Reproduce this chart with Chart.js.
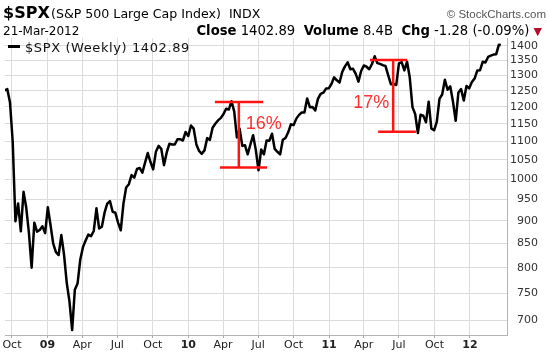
<!DOCTYPE html>
<html>
<head>
<meta charset="utf-8">
<script src="https://cdn.jsdelivr.net/npm/chart.js@4/dist/chart.umd.min.js"></script>
<style>
  html, body { margin: 0; padding: 0; background: #fff; }
  #wrap { position: relative; width: 548px; height: 357px; overflow: hidden; }
  #c { position: absolute; left: 0; top: 0; }
  .t { position: absolute; white-space: nowrap; font-family: "DejaVu Sans", sans-serif; color: #000; line-height: 1; }
  .red { color: #ff3030; font-family: "Liberation Sans", Arial, sans-serif; font-size: 18px; }
</style>
</head>
<body>
<div id="wrap">
  <canvas id="c" width="548" height="357"></canvas>
  <div class="t" style="left:3px;top:5px;font-size:16px;font-weight:bold;">$SPX</div>
  <div class="t" style="left:51px;top:8px;font-size:12.6px;">(S&amp;P 500 Large Cap Index)&nbsp; INDX</div>
  <div class="t" style="right:2px;top:9px;font-size:11.5px;color:#555;font-family:'Liberation Sans',Arial,sans-serif;">© StockCharts.com</div>
  <div class="t" style="left:3px;top:25px;font-size:12px;">21-Mar-2012</div>
  <div class="t" style="right:6px;top:24px;font-size:13.2px;"><b>Close</b> 1402.89&nbsp; <b>Volume</b> 8.4B&nbsp; <b>Chg</b> -1.28 (-0.09%) <span style="color:#b0102a;font-size:11px;">▼</span></div>
  <div style="position:absolute;left:8px;top:45px;width:12px;height:3px;background:#000;"></div>
  <div class="t" style="left:25px;top:41px;font-size:13px;letter-spacing:0.6px;color:#111;">$SPX (Weekly) 1402.89</div>
  <div id="lab0" class="t red">16%</div>
  <div id="lab1" class="t red">17%</div>
</div>
<script>
// ---------------- data ----------------
const startDate = '2008-09-12';   // first weekly close shown
const lastDate  = '2012-03-21';   // last (partial week) bar
const spxWeekly = [
  1251.7, 1255.1, 1213.3, 1099.2, 899.2, 940.6, 876.8, 968.8, 931.0, 873.3, 800.0, 896.2,
  876.1, 879.7, 887.9, 872.8,
  931.8, 890.4, 850.1, 832.0, 825.9, 868.6, 826.8, 770.1, 735.1, 683.4, 756.6, 768.5,
  815.9, 842.5, 856.6, 869.6, 866.2, 877.5, 929.2, 882.9, 887.0, 919.1, 940.1, 946.2,
  921.2, 918.9, 896.4, 879.1, 940.4, 979.3, 987.5, 1010.5, 1004.1, 1026.1, 1028.9, 1016.4,
  1042.7, 1068.3, 1044.4, 1025.2, 1071.5, 1087.7, 1079.6, 1036.2, 1069.3, 1093.5, 1091.4, 1091.5,
  1106.0, 1106.4, 1102.5, 1126.5, 1115.1,
  1145.0, 1136.0, 1091.8, 1073.9, 1066.2, 1075.5, 1109.2, 1104.5, 1138.7, 1150.0, 1159.9, 1166.6,
  1178.1, 1194.4, 1192.1, 1217.3, 1186.7, 1110.9, 1135.7, 1087.7, 1089.4, 1064.9, 1091.6, 1117.5,
  1076.8, 1022.6, 1078.0, 1064.9, 1102.7, 1101.6, 1121.6, 1079.3, 1071.7, 1064.6, 1104.5, 1109.6,
  1125.6, 1148.7, 1146.2, 1165.2, 1176.2, 1183.1, 1183.3, 1225.9, 1199.2, 1199.7, 1189.4, 1224.7,
  1240.4, 1243.9, 1256.8, 1257.6,
  1271.5, 1293.2, 1283.4, 1276.3, 1310.9, 1329.2, 1343.0, 1319.9, 1321.2, 1304.3, 1279.2, 1313.8,
  1332.4, 1328.2, 1319.7, 1337.4, 1363.6, 1340.2, 1337.8, 1333.3, 1331.1, 1300.2, 1271.0, 1271.5,
  1268.5, 1339.7, 1343.8, 1316.1, 1345.0, 1292.3, 1199.4, 1178.8, 1123.5, 1176.8, 1174.0, 1154.2,
  1216.0, 1136.4, 1131.4, 1155.5, 1224.6, 1238.3, 1285.1, 1253.2, 1263.9, 1215.7, 1158.7, 1244.3,
  1255.2, 1219.7, 1265.3, 1257.6,
  1277.8, 1289.1, 1315.4, 1316.3, 1344.9, 1342.6, 1361.2, 1365.7, 1369.6, 1370.9, 1404.2, 1402.9
];
const tickDates  = ['2008-10-01','2009-01-01','2009-04-01','2009-07-01','2009-10-01','2010-01-01','2010-04-01',
                    '2010-07-01','2010-10-01','2011-01-01','2011-04-01','2011-07-01','2011-10-01','2012-01-01'];
const tickLabels = ['Oct','09','Apr','Jul','Oct','10','Apr','Jul','Oct','11','Apr','Jul','Oct','12'];
const priceTicks = [700,750,800,850,900,950,1000,1050,1100,1150,1200,1250,1300,1350,1400];
const xRange = ['2008-09-13','2012-04-06'];
const yRange = [675, 1428];
// drawdown markers (dates / prices)
const ddTopFrom = ['2010-03-11','2011-04-17'];
const ddTopTo   = ['2010-07-14','2011-07-22'];
const ddTop     = [1215, 1351];
const ddBotFrom = ['2010-03-24','2011-05-08'];
const ddBotTo   = ['2010-07-24','2011-08-14'];
const ddBottom  = [1030, 1127];
const ddStem    = ['2010-05-12','2011-06-16'];
const ddLabelAt = [1135, 1197];
const ddLabelSide = ['right','left'];

// ---------------- chart ----------------
const DAY = 86400000;
const dayNum = s => Date.parse(s + 'T00:00:00Z') / DAY;
const points = spxWeekly.map((v, i) => ({
  x: i === spxWeekly.length - 1 ? dayNum(lastDate) : dayNum(startDate) + 7 * i,
  y: v
}));
const yearSet = new Set(['09','10','11','12']);

const ddPlugin = {
  id: 'dd',
  afterDatasetsDraw(chart) {
    const {ctx, scales: {x, y}} = chart;
    ctx.save();
    ctx.strokeStyle = '#ff1414';
    ctx.lineWidth = 2.5;
    const seg = (x1, y1, x2, y2) => { ctx.beginPath(); ctx.moveTo(x1, y1); ctx.lineTo(x2, y2); ctx.stroke(); };
    for (let i = 0; i < ddTop.length; i++) {
      const yt = y.getPixelForValue(ddTop[i]);
      const yb = y.getPixelForValue(ddBottom[i]);
      seg(x.getPixelForValue(dayNum(ddTopFrom[i])), yt, x.getPixelForValue(dayNum(ddTopTo[i])), yt);
      seg(x.getPixelForValue(dayNum(ddBotFrom[i])), yb, x.getPixelForValue(dayNum(ddBotTo[i])), yb);
      const xs = x.getPixelForValue(dayNum(ddStem[i]));
      seg(xs, yt, xs, yb);
    }
    ctx.restore();
  },
  afterRender(chart) {
    const {scales: {x, y}} = chart;
    for (let i = 0; i < ddTop.length; i++) {
      const el = document.getElementById('lab' + i);
      const xs = x.getPixelForValue(dayNum(ddStem[i]));
      const base = y.getPixelForValue(ddLabelAt[i]);
      el.style.top = (base - 18 * 0.85) + 'px';
      if (ddLabelSide[i] === 'right') { el.style.left = (xs + 7) + 'px'; }
      else { el.style.left = (xs - 4 - el.offsetWidth) + 'px'; }
    }
  }
};

new Chart(document.getElementById('c'), {
  type: 'line',
  data: {
    datasets: [{
      data: points,
      borderColor: '#000',
      borderWidth: 2.5,
      pointRadius: 0,
      tension: 0,
      borderJoinStyle: 'round',
      fill: false
    }]
  },
  options: {
    responsive: false,
    animation: false,
    events: [],
    layout: { padding: { left: 5, top: 38, right: 10, bottom: 0 } },
    plugins: { legend: { display: false }, tooltip: { enabled: false } },
    scales: {
      x: {
        type: 'linear',
        min: dayNum(xRange[0]),
        max: dayNum(xRange[1]),
        afterBuildTicks: s => { s.ticks = tickDates.map(d => ({ value: dayNum(d) })); },
        afterFit: s => { s.height = 22; s.paddingLeft = 0; s.paddingRight = 0; },
        grid: { color: '#dcdcdc', lineWidth: 1, drawTicks: true, tickLength: 3, tickColor: '#aaa' },
        border: { color: '#b4b4b4', width: 1 },
        ticks: {
          autoSkip: false,
          maxRotation: 0,
          padding: 1,
          color: '#222',
          font: ctx => ({ family: 'DejaVu Sans', size: 11,
                          weight: (ctx.tick && yearSet.has(ctx.tick.label)) ? 'bold' : 'normal' }),
          callback: (v, i) => tickLabels[i]
        }
      },
      y: {
        type: 'logarithmic',
        position: 'right',
        min: yRange[0],
        max: yRange[1],
        afterBuildTicks: s => { s.ticks = priceTicks.map(v => ({ value: v })); },
        afterFit: s => { s.width = 31; s.paddingTop = 0; s.paddingBottom = 0; },
        grid: { color: '#dcdcdc', lineWidth: 1, drawTicks: false },
        border: { color: '#b4b4b4', width: 1 },
        ticks: {
          autoSkip: false,
          crossAlign: 'far',
          padding: 4,
          color: '#333',
          font: { family: 'DejaVu Sans', size: 11 },
          callback: v => String(v)
        }
      }
    }
  },
  plugins: [ddPlugin]
});
</script>
</body>
</html>
